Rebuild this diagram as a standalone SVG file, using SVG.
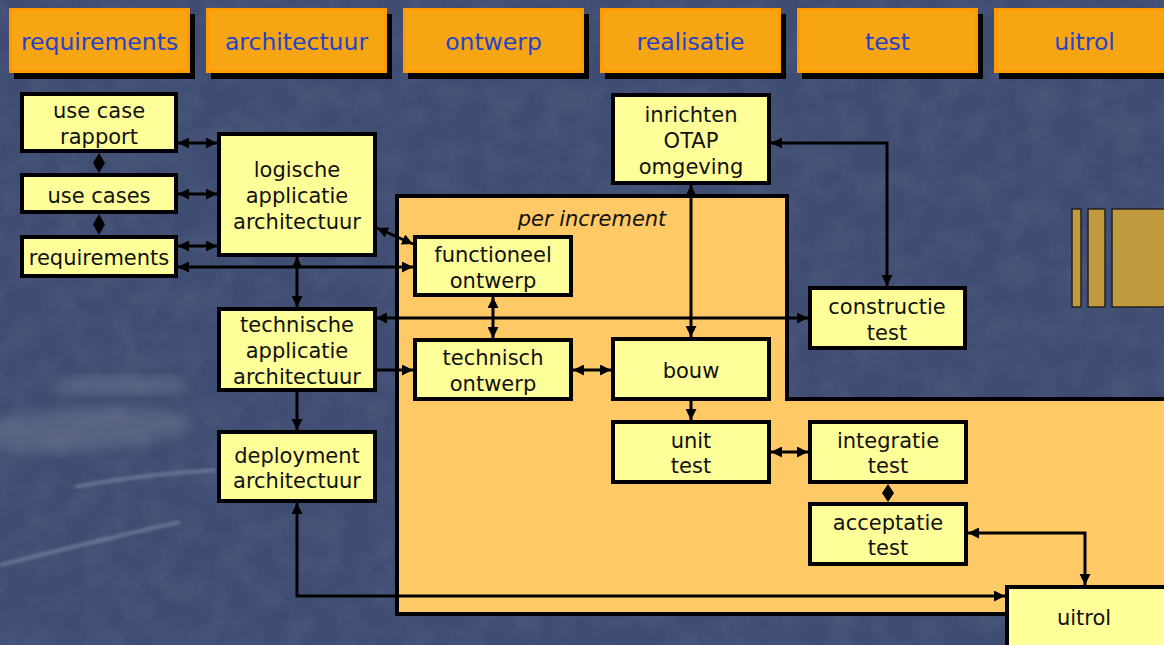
<svg xmlns="http://www.w3.org/2000/svg" width="1164" height="645" viewBox="0 0 1164 645">
<defs>
<style>
.hdr{fill:#F7A512;stroke:#FF9A00;stroke-width:3}
.shd{fill:#000}
.htx{font-family:"DejaVu Sans",Verdana,sans-serif;font-size:23.5px;fill:#2244CC;text-anchor:middle}
.box{fill:#FFFF99;stroke:#000;stroke-width:4}
.tx{font-family:"DejaVu Sans",Verdana,sans-serif;font-size:21px;fill:#111;text-anchor:middle}
.ln{fill:none;stroke:#000;stroke-width:3}
.bi{marker-start:url(#ah);marker-end:url(#ah)}
.one{marker-end:url(#ah)}
.dia{fill:#000}
.stripe{fill:#C29A3E;stroke:#222;stroke-width:1.5}
</style>
<marker id="ah" viewBox="0 0 10 10" refX="10" refY="5" markerWidth="11" markerHeight="11" markerUnits="userSpaceOnUse" orient="auto-start-reverse">
<path d="M0,0 L10,5 L0,10 z" fill="#000"/>
</marker>
<filter id="tex" x="0" y="0" width="100%" height="100%">
<feTurbulence type="fractalNoise" baseFrequency="0.035" numOctaves="4" seed="7" result="n"/>
<feColorMatrix type="matrix" values="0 0 0 0 0.12  0 0 0 0 0.16  0 0 0 0 0.28  0 0 0 -1.6 1.0" />
<feComposite in2="SourceGraphic" operator="in"/>
</filter>
<filter id="blur"><feGaussianBlur stdDeviation="6"/></filter>
<filter id="blur2"><feGaussianBlur stdDeviation="1.5"/></filter>
</defs>

<g id="background">
<rect x="0" y="0" width="1164" height="645" fill="#3F4D72"/>
<rect x="0" y="0" width="1164" height="645" fill="#3F4D72" filter="url(#tex)" opacity="0.35"/>
<ellipse cx="80" cy="430" rx="110" ry="22" fill="#8A93A0" opacity="0.3" filter="url(#blur)" transform="rotate(-4 80 430)"/>
<ellipse cx="120" cy="385" rx="70" ry="10" fill="#8E96A2" opacity="0.3" filter="url(#blur)"/>
<path d="M75,487 C120,478 170,473 215,470" stroke="#8C97AE" stroke-width="4" fill="none" opacity="0.5" filter="url(#blur2)"/>
<path d="M0,565 C60,550 120,535 180,522" stroke="#8C97AE" stroke-width="4" fill="none" opacity="0.5" filter="url(#blur2)"/>
</g>

<g id="phases">
<g id="phase-requirements"><rect class="shd" x="14" y="14" width="181" height="65"/><rect class="hdr" x="10.5" y="9.5" width="178" height="62"/><text class="htx" x="99.5" y="50">requirements</text></g>
<g id="phase-architectuur"><rect class="shd" x="211" y="14" width="181" height="65"/><rect class="hdr" x="207.5" y="9.5" width="178" height="62"/><text class="htx" x="296.5" y="50">architectuur</text></g>
<g id="phase-ontwerp"><rect class="shd" x="408" y="14" width="181" height="65"/><rect class="hdr" x="404.5" y="9.5" width="178" height="62"/><text class="htx" x="493.5" y="50">ontwerp</text></g>
<g id="phase-realisatie"><rect class="shd" x="605" y="14" width="181" height="65"/><rect class="hdr" x="601.5" y="9.5" width="178" height="62"/><text class="htx" x="690.5" y="50">realisatie</text></g>
<g id="phase-test"><rect class="shd" x="802" y="14" width="181" height="65"/><rect class="hdr" x="798.5" y="9.5" width="178" height="62"/><text class="htx" x="887.5" y="50">test</text></g>
<g id="phase-uitrol"><rect class="shd" x="999" y="14" width="181" height="65"/><rect class="hdr" x="995.5" y="9.5" width="178" height="62"/><text class="htx" x="1084.5" y="50">uitrol</text></g>
</g>

<g id="per-increment">
<path d="M397,196 H787 V399 H1170 V614 H397 Z" fill="#FFCA66" stroke="#000" stroke-width="4"/>
<text x="592" y="226" font-family="'DejaVu Sans',Verdana,sans-serif" font-size="21" font-style="italic" fill="#111" text-anchor="middle">per increment</text>
</g>

<g id="stripes">
<rect class="stripe" x="1072" y="209" width="9" height="98"/>
<rect class="stripe" x="1088" y="209" width="17" height="98"/>
<rect class="stripe" x="1112" y="209" width="60" height="98"/>
</g>

<g id="connectors">
<line class="ln bi" x1="178" y1="143" x2="217" y2="143"/>
<line class="ln bi" x1="178" y1="194" x2="217" y2="194"/>
<line class="ln bi" x1="178" y1="246" x2="217" y2="246"/>
<line class="ln bi" x1="178" y1="267" x2="413" y2="267"/>
<line class="ln bi" x1="377" y1="228" x2="413" y2="244"/>
<line class="ln bi" x1="297" y1="257" x2="297" y2="307"/>
<line class="ln one" x1="297" y1="392" x2="297" y2="430"/>
<line class="ln bi" x1="376" y1="318" x2="808" y2="318"/>
<line class="ln one" x1="376" y1="370" x2="413" y2="370"/>
<line class="ln bi" x1="493" y1="297" x2="493" y2="338"/>
<line class="ln bi" x1="573" y1="370" x2="611" y2="370"/>
<line class="ln bi" x1="691" y1="185" x2="691" y2="337"/>
<path class="ln bi" d="M771,143 H887 V286"/>
<line class="ln one" x1="691" y1="401" x2="691" y2="420"/>
<line class="ln bi" x1="771" y1="452" x2="808" y2="452"/>
<path class="ln bi" d="M968,533 H1085 V585"/>
<path class="ln bi" d="M297,503 V596 H1005"/>
<polygon class="dia" points="99,153 105,163 99,173 93,163"/>
<polygon class="dia" points="99,214 105,224.5 99,235 93,224.5"/>
<polygon class="dia" points="888,484 894,493 888,502 882,493"/>
</g>

<g id="n-use-case-rapport"><rect class="box" x="22" y="94" width="154" height="57"/><text class="tx" x="99" y="118">use case</text><text class="tx" x="99" y="144">rapport</text></g>
<g id="n-use-cases"><rect class="box" x="22" y="175" width="154" height="37"/><text class="tx" x="99" y="203">use cases</text></g>
<g id="n-requirements"><rect class="box" x="22" y="237" width="154" height="39"/><text class="tx" x="99" y="265">requirements</text></g>
<g id="n-logische"><rect class="box" x="219" y="134" width="156" height="121"/><text class="tx" x="297" y="177">logische</text><text class="tx" x="297" y="203">applicatie</text><text class="tx" x="297" y="229">architectuur</text></g>
<g id="n-technische"><rect class="box" x="219" y="309" width="156" height="81"/><text class="tx" x="297" y="332">technische</text><text class="tx" x="297" y="358">applicatie</text><text class="tx" x="297" y="384">architectuur</text></g>
<g id="n-deployment"><rect class="box" x="219" y="432" width="156" height="69"/><text class="tx" x="297" y="463">deployment</text><text class="tx" x="297" y="488">architectuur</text></g>
<g id="n-functioneel"><rect class="box" x="415" y="237" width="156" height="58"/><text class="tx" x="493" y="262">functioneel</text><text class="tx" x="493" y="288">ontwerp</text></g>
<g id="n-technisch"><rect class="box" x="415" y="340" width="156" height="59"/><text class="tx" x="493" y="365">technisch</text><text class="tx" x="493" y="391">ontwerp</text></g>
<g id="n-otap"><rect class="box" x="613" y="95" width="156" height="88"/><text class="tx" x="691" y="122">inrichten</text><text class="tx" x="691" y="148">OTAP</text><text class="tx" x="691" y="174">omgeving</text></g>
<g id="n-bouw"><rect class="box" x="613" y="339" width="156" height="60"/><text class="tx" x="691" y="378">bouw</text></g>
<g id="n-unit-test"><rect class="box" x="613" y="422" width="156" height="60"/><text class="tx" x="691" y="448">unit</text><text class="tx" x="691" y="473">test</text></g>
<g id="n-constructie"><rect class="box" x="810" y="288" width="155" height="60"/><text class="tx" x="887" y="314">constructie</text><text class="tx" x="887" y="340">test</text></g>
<g id="n-integratie"><rect class="box" x="810" y="422" width="156" height="60"/><text class="tx" x="888" y="448">integratie</text><text class="tx" x="888" y="473">test</text></g>
<g id="n-acceptatie"><rect class="box" x="810" y="504" width="156" height="60"/><text class="tx" x="888" y="530">acceptatie</text><text class="tx" x="888" y="555">test</text></g>
<g id="n-uitrol"><rect class="box" x="1007" y="587" width="170" height="70"/><text class="tx" x="1084" y="625">uitrol</text></g>
</svg>
